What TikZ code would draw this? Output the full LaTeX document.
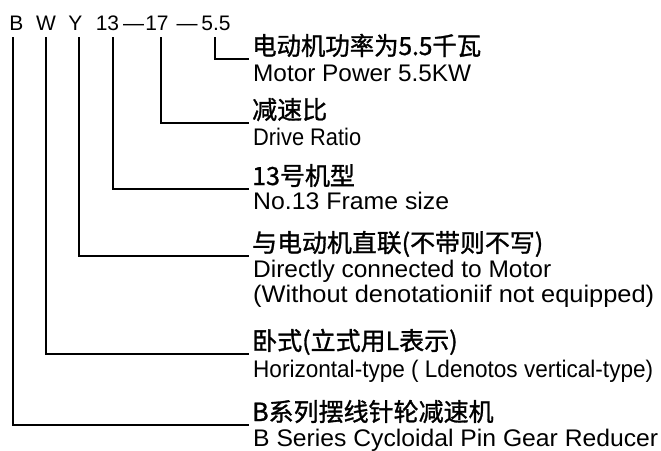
\documentclass[tikz,border=0pt]{standalone}
\usepackage{fontspec}
\usepackage{graphicx}
\setmainfont{Liberation Sans}
\newfontfamily\cjk[FakeBold=1.2]{Noto Sans CJK SC}
\usetikzlibrary{calc}
\begin{document}
\begin{tikzpicture}[x=1pt,y=-1pt,
  tok/.style={inner sep=0pt, anchor=base, font=\fontsize{21}{24}\selectfont},
  zh/.style={inner sep=0pt, anchor=base west, font=\cjk\fontsize{25}{28}\selectfont},
  en/.style={inner sep=0pt, anchor=base west, font=\fontsize{24}{28}\selectfont},
  lead/.style={line width=1.6pt, line cap=rect}]
\useasboundingbox[fill=white] (0,0) rectangle (661,450);
% top code
\node[tok] (tB)  at (16.5,30) {B};
\node[tok] (tW)  at (46,30) {W};
\node[tok] (tY)  at (75.5,30) {Y};
\node[tok] (t13) at (107.5,30) {13};
\node[tok] (d1)  at (133.5,30) {—};
\node[tok] (t17) at (157,30) {17};
\node[tok] (d2)  at (187,30) {—};
\node[tok] (t55) at (216,30) {5.5};
% line starts
\coordinate (sB)  at ([xshift=-3.5pt,yshift=-8pt]tB.base);
\coordinate (sW)  at ([yshift=-8pt]tW.base);
\coordinate (sY)  at ([xshift=3.5pt,yshift=-8pt]tY.base);
\coordinate (s13) at ([xshift=5.5pt,yshift=-8pt]t13.base);
\coordinate (s17) at ([xshift=4pt,yshift=-8pt]t17.base);
\coordinate (s55) at ([xshift=-1pt,yshift=-8pt]t55.base);
% line ends
\coordinate (k55) at (248,59);
\coordinate (k17) at (248,123);
\coordinate (k13) at (248,189);
\coordinate (kY)  at (248,256);
\coordinate (kW)  at (248,354);
\coordinate (kB)  at (248,425);
% labels
\node[zh] (z55) at (252,55) {\resizebox{229pt}{\height}{电动机功率为5.5千瓦}};
\node[en] (n55) at (253,81) {\resizebox{218pt}{\height}{Motor Power 5.5KW}};
\node[zh] (z17) at (252,119) {减速比};
\node[en] (n17) at (253,145) {\resizebox{108pt}{\height}{Drive Ratio}};
\node[zh] (z13) at (252,185) {13号机型};
\node[en] (n13) at (253,209) {\resizebox{196pt}{\height}{No.13 Frame size}};
\node[zh] (zY)  at (252,252) {\resizebox{291pt}{\height}{与电动机直联(不带则不写)}};
\node[en] (nY)  at (253,277) {\resizebox{298pt}{\height}{Directly connected to Motor}};
\node[en] (nY2) at (253,302) {\resizebox{401pt}{\height}{(Without denotationiif not equipped)}};
\node[zh] (zW)  at (252,350) {卧式(立式用L表示)};
\node[en] (nW)  at (253,377) {\resizebox{400pt}{\height}{Horizontal-type ( Ldenotos vertical-type)}};
\node[zh] (zB)  at (252,421) {B系列摆线针轮减速机};
\node[en] (nB)  at (253,446) {\resizebox{405pt}{\height}{B Series Cycloidal Pin Gear Reducer}};
% leaders
\draw[lead] (s55) |- (k55);
\draw[lead] (s17) |- (k17);
\draw[lead] (s13) |- (k13);
\draw[lead] (sY)  |- (kY);
\draw[lead] (sW)  |- (kW);
\draw[lead] (sB)  |- (kB);
\end{tikzpicture}
\end{document}
